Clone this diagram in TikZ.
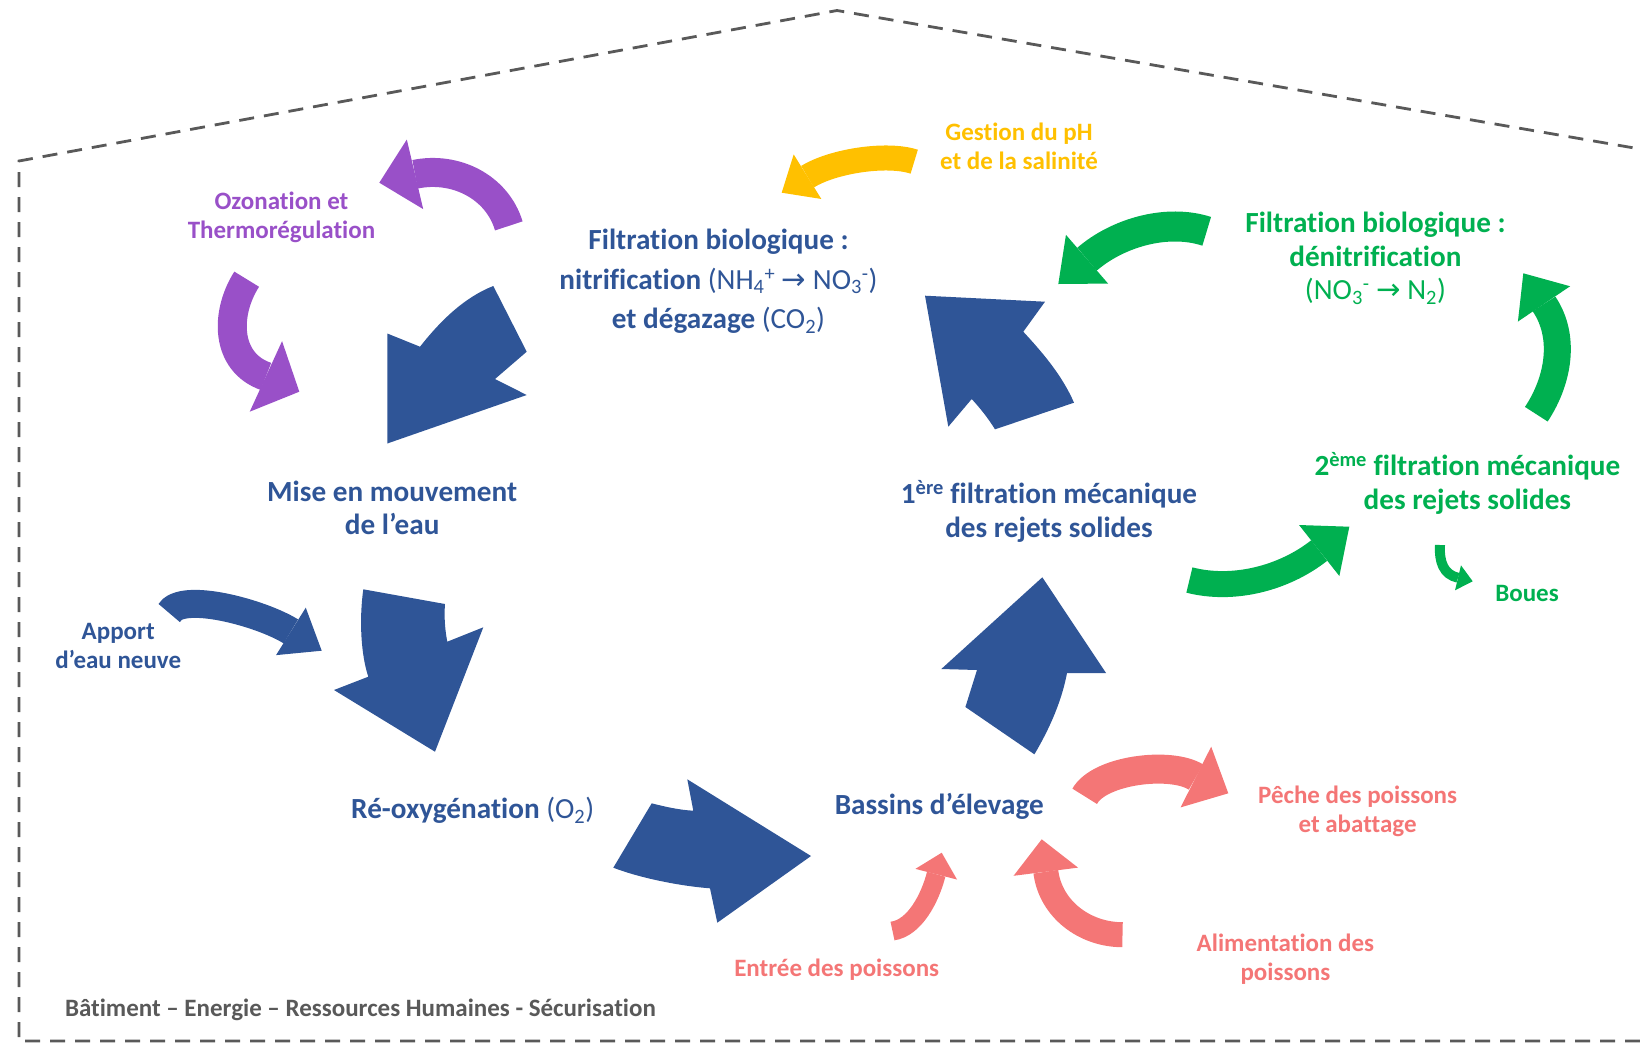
\documentclass[tikz,border=0pt]{standalone}
\usepackage{fontspec}
\setmainfont{Carlito}[Ligatures=NoCommon]
\newfontfamily\arrowfont{DejaVu Sans}
\usetikzlibrary{calc}
\definecolor{cblue}{HTML}{2F5597}
\definecolor{cpurple}{RGB}{153,80,200}
\definecolor{cgreen}{HTML}{00B050}
\definecolor{cyellow}{HTML}{FFC000}
\definecolor{csalmon}{RGB}{244,118,118}
\definecolor{cgray}{HTML}{595959}
% #1 colour, #2 band width, #3 tail, #4 c1, #5 c2, #6 head base, #7 tip, #8 half head width
\newcommand\bandarrow[8]{%
  \draw[#1, line width=#2pt] (#3) .. controls (#4) and (#5) .. (#6);
  \fill[#1] ($(#6)!#8pt!90:(#7)$) -- (#7) -- ($(#6)!#8pt!-90:(#7)$) -- cycle;
}
\newcommand\ar{{\mdseries\arrowfont →}}
\begin{document}
\begin{tikzpicture}[x=1pt,y=-1pt,
  big/.style={font=\fontsize{29.2}{33.5}\selectfont\bfseries, align=center, inner sep=0pt},
  small/.style={font=\fontsize{25}{28.8}\selectfont\bfseries, align=center, inner sep=0pt},
  frame/.style={draw=cgray, line width=2.8pt, dash pattern=on 15pt off 10pt},
  bigblock/.style={fill=cblue}]
\useasboundingbox (0,0) rectangle (1640,1045);

% dashed building outline
\draw[frame] (1640,1041) -- (19,1041) -- (19,161) -- (837,10.5) -- (1640,149);

% ---------- labels ----------
\node[big, text=cblue] (mise) at (392.2,507.8) {Mise en mouvement\\de l’eau};
\node[big, text=cblue, font=\fontsize{29.2}{39.5}\selectfont\bfseries] (fbio) at (718.5,281.5)
  {Filtration biologique :\\nitrification {\mdseries (NH\textsubscript{4}\textsuperscript{+} \ar{} NO\textsubscript{3}\textsuperscript{-})}\\et dégazage {\mdseries (CO\textsubscript{2})}};
\node[big, text=cgreen] (fden) at (1375.4,258.3)
  {Filtration biologique :\\dénitrification\\{\mdseries (NO\textsubscript{3}\textsuperscript{-} \ar{} N\textsubscript{2})}};
\node[big, text=cblue] (mf1) at (1049,511.3) {1\textsuperscript{ère} filtration mécanique\\des rejets solides};
\node[big, text=cgreen] (mf2) at (1467.4,483.2) {2\textsuperscript{ème} filtration mécanique\\des rejets solides};
\node[big, text=cblue] (reox) at (472.7,810.6) {Ré-oxygénation {\mdseries (O\textsubscript{2})}};
\node[big, text=cblue] (bass) at (939.2,806.4) {Bassins d’élevage};
\node[small, text=cpurple] (ozo) at (281.5,217) {Ozonation et\\Thermorégulation};
\node[small, text=cyellow] (ph) at (1019,146) {Gestion du pH\\et de la salinité};
\node[small, text=cgreen] (boues) at (1527,593) {Boues};
\node[small, text=cblue] (apport) at (118.2,646) {Apport\\d’eau neuve};
\node[small, text=csalmon] (peche) at (1357.6,811.6) {Pêche des poissons\\et abattage};
\node[small, text=csalmon] (entree) at (836.7,969.5) {Entrée des poissons};
\node[small, text=csalmon] (alim) at (1285.4,959) {Alimentation des\\poissons};
\node[small, text=cgray, anchor=west] (bat) at (64.8,1010.3) {Bâtiment – Energie – Ressources Humaines - Sécurisation};

% ---------- big blue block arrows ----------
\fill[bigblock] (493.3,286) -- (526.7,351.7) -- (495,379) -- (526.7,395) -- (387.3,443.5) -- (387.3,333.5) -- (420,346.7)
  .. controls (441,320) and (465,297) .. cycle;
\fill[bigblock] (925,295.7) -- (1045,301.7) -- (1023.3,331.7) .. controls (1042,352) and (1062,375) .. (1074,402.7)
  -- (995,429.3) .. controls (988,418) and (980,408) .. (971.7,399) -- (948.3,426.7) -- cycle;
\fill[bigblock] (363.3,589.3) -- (445,604) .. controls (444,617) and (445,630) .. (447.3,641.7) -- (483.3,627.3)
  -- (435,751.7) -- (334,690) -- (368.3,676.7) .. controls (361,655) and (359,620) .. cycle;
\fill[bigblock] (613.3,867.7) -- (651.7,803.3) .. controls (666,807) and (680,810) .. (693.3,810.7) -- (687.3,779.3)
  -- (811,856) -- (717.3,922.7) -- (710,888.3) .. controls (680,886) and (640,878) .. cycle;
\fill[bigblock] (1042.3,577.3) -- (1106,673) -- (1067,673) .. controls (1062,700) and (1050,728) .. (1034.4,754.3)
  -- (965.4,707) -- (977,670) -- (941.3,669) -- cycle;

% ---------- curved band arrows ----------
\bandarrow{cpurple}{29}{508.8,225.9}{497,186.6}{455.1,165.9}{415,174.3}{379.3,182.7}{35.75}
\bandarrow{cpurple}{29}{246.7,279.2}{225,313}{225,362}{265.9,376.4}{299.3,391.7}{38.8}
\bandarrow{cblue}{28}{169.2,613}{181.4,591.2}{261.2,612.9}{290.9,631.4}{321.7,650.7}{28}
\bandarrow{cyellow}{25}{914.2,161.7}{887.2,152.7}{833,160.9}{807.5,176.7}{781.7,192.7}{26.2}
\bandarrow{cgreen}{30}{1206.7,231.3}{1166.7,218.3}{1117.3,233}{1087,259.2}{1058.3,284}{32.2}
\bandarrow{cgreen}{27}{1536.3,414.2}{1558.3,381}{1566.4,337.1}{1544,303.9}{1523.3,273.3}{31.5}
\bandarrow{cgreen}{26}{1189.4,580}{1233,591.3}{1283.9,578.4}{1319.2,550.5}{1349.3,526.7}{32.5}
\bandarrow{cgreen}{10}{1440,545}{1439,562}{1443.5,574.4}{1458,577.8}{1472.7,581.3}{12.8}
\bandarrow{csalmon}{29}{1084.7,796.3}{1099,770}{1170.4,761.1}{1195.9,777}{1228.3,793.3}{34}
\bandarrow{csalmon}{19}{892.5,931}{914.5,928}{930,898.5}{936.2,874.2}{941.7,852.7}{21.5}
\bandarrow{csalmon}{25}{1122.5,934.7}{1084.7,934.7}{1050.5,909.1}{1045.8,871.7}{1041.7,839.3}{32.5}
\end{tikzpicture}
\end{document}
